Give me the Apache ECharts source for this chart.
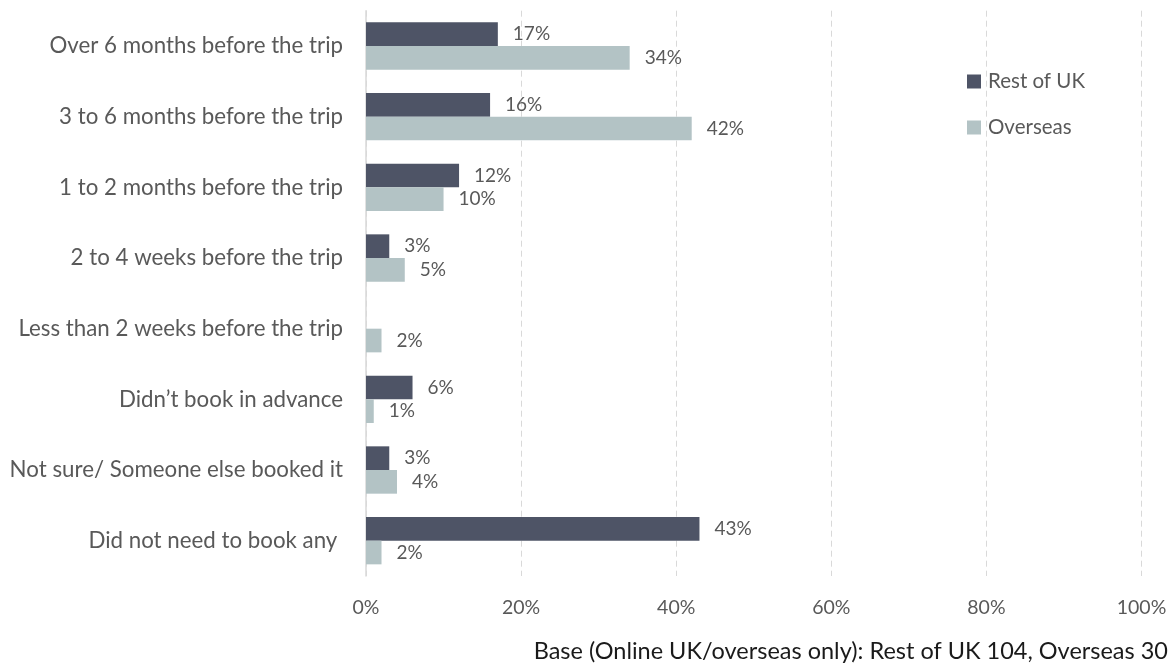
<!DOCTYPE html>
<html>
<head>
<meta charset="utf-8">
<style>
  html, body { margin: 0; padding: 0; background: #ffffff; }
  #chart { width: 1171px; height: 663px; }
</style>
<script src="https://cdn.jsdelivr.net/npm/echarts@6/dist/echarts.min.js"></script>
</head>
<body>
<div id="chart"></div>
<script>
// Timing of booking accommodation, by visitor origin (percent of respondents)
const categories = [
  'Over 6 months before the trip',
  '3 to 6 months before the trip',
  '1 to 2 months before the trip',
  '2 to 4 weeks before the trip',
  'Less than 2 weeks before the trip',
  'Didn\u2019t book in advance',
  'Not sure/ Someone else booked it',
  'Did not need to book any '
];
const restOfUK = [17, 16, 12, 3, null, 6, 3, 43];
const overseas = [34, 42, 10, 5, 2, 1, 4, 2];
const xTicks = [0, 20, 40, 60, 80, 100];
const footnote = 'Base (Online UK/overseas only): Rest of UK 104, Overseas 30';

const FONT = 'Lato, "Open Sans", sans-serif';
const TEXT = '#595959';
const GRID = '#d9d9d9';

const chart = echarts.init(document.getElementById('chart'), null, { renderer: 'canvas' });

const valueLabel = {
  show: true,
  position: 'right',
  distance: 15,
  color: TEXT,
  fontFamily: FONT,
  fontSize: 19,
  formatter: p => (p.value == null ? '' : p.value + '%')
};

chart.setOption({
  animation: false,
  backgroundColor: '#ffffff',
  grid: { left: 366, right: 29.5, top: 10.7, bottom: 87, containLabel: false },
  legend: {
    orient: 'vertical',
    left: 962,
    top: 66,
    itemWidth: 14,
    itemHeight: 14,
    itemGap: 25,
    icon: 'rect',
    textStyle: { color: TEXT, fontFamily: FONT, fontSize: 20.5, lineHeight: 20, padding: [0, 0, 0, 2] },
    data: ['Rest of UK', 'Overseas']
  },
  xAxis: {
    type: 'value',
    min: xTicks[0],
    max: xTicks[xTicks.length - 1],
    interval: xTicks[1] - xTicks[0],
    axisLine: { show: false },
    axisTick: { show: false },
    splitLine: { show: true, lineStyle: { color: GRID, type: [6, 4], width: 1 } },
    axisLabel: {
      color: TEXT, fontFamily: FONT, fontSize: 19.5, margin: 22,
      formatter: v => v + '%'
    }
  },
  yAxis: {
    type: 'category',
    inverse: true,
    data: categories,
    axisLine: { show: true, lineStyle: { color: GRID, width: 1.5 } },
    axisTick: { show: false },
    axisLabel: { color: TEXT, fontFamily: FONT, fontSize: 22.3, margin: 23 }
  },
  series: [
    {
      name: 'Rest of UK',
      type: 'bar',
      data: restOfUK,
      barGap: '0%',
      barCategoryGap: '33%',
      itemStyle: { color: '#4e5466' },
      label: valueLabel
    },
    {
      name: 'Overseas',
      type: 'bar',
      data: overseas,
      barGap: '0%',
      barCategoryGap: '33%',
      itemStyle: { color: '#b3c3c5' },
      label: valueLabel
    }
  ],
  graphic: [{
    type: 'text',
    right: 3,
    top: 639,
    style: { text: footnote, fill: '#1a1a1a', font: '23.5px ' + FONT }
  }]
});
</script>
</body>
</html>
